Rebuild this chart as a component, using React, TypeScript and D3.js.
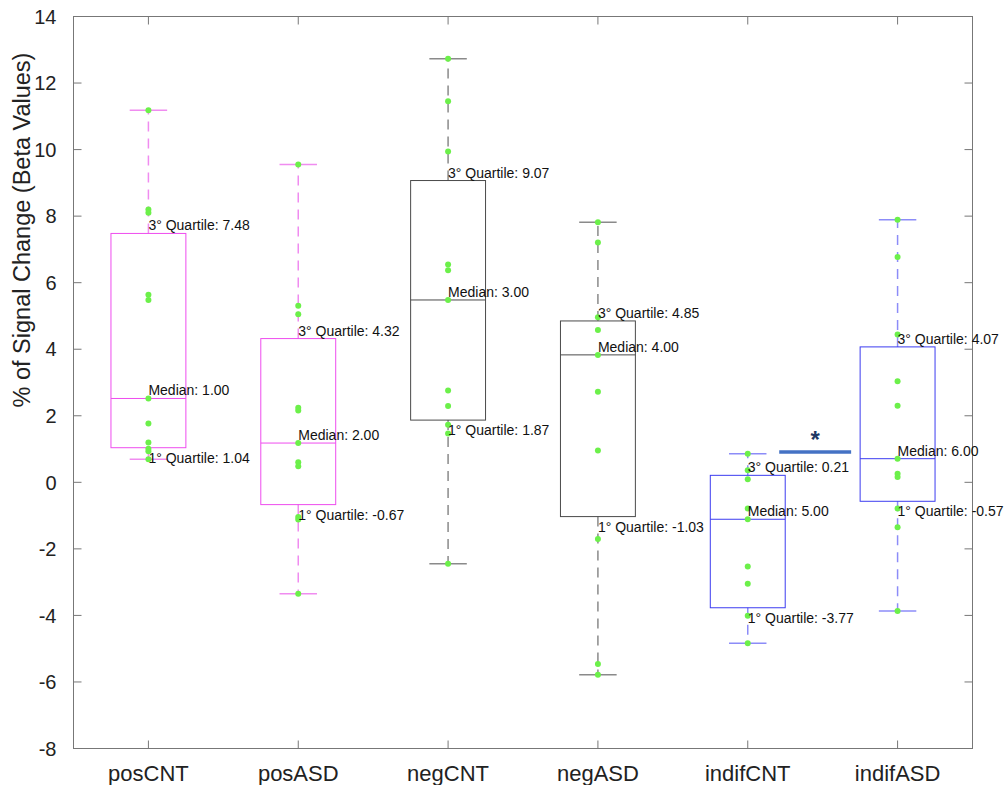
import React from "react";
import * as d3 from "d3";

const categories = ["posCNT", "posASD", "negCNT", "negASD", "indifCNT", "indifASD"];
const q1Values = [1.04, -0.67, 1.87, -1.03, -3.77, -0.57];
const q3Values = [7.48, 4.32, 9.07, 4.85, 0.21, 4.07];
const medianValues = [2.52, 1.18, 5.48, 3.83, -1.11, 0.71];
const whiskerLow = [0.69, -3.35, -2.45, -5.78, -4.84, -3.87];
const whiskerHigh = [11.18, 9.55, 12.73, 7.82, 0.86, 7.89];
const medianLabels = ["1.00", "2.00", "3.00", "4.00", "5.00", "6.00"];

const posCNTPoints = [11.18, 8.2, 8.1, 5.64, 5.48, 2.52, 1.77, 1.2, 1.01, 0.93, 0.69];
const posASDPoints = [9.55, 5.31, 5.05, 2.24, 2.16, 1.18, 0.6, 0.48, -1.04, -1.12, -3.35];
const negCNTPoints = [12.73, 11.45, 9.94, 6.55, 6.37, 5.48, 2.76, 2.29, 1.73, 1.47, -2.45];
const negASDPoints = [7.82, 7.21, 4.96, 4.58, 3.83, 2.72, 0.96, -1.7, -5.46, -5.78];
const indifCNTPoints = [0.86, 0.36, 0.09, -0.79, -1.11, -2.53, -3.05, -4.01, -4.84];
const indifASDPoints = [7.89, 6.77, 4.44, 3.04, 2.3, 0.71, 0.26, 0.16, -0.79, -1.35, -3.87];
const groupPoints = [posCNTPoints, posASDPoints, negCNTPoints, negASDPoints, indifCNTPoints, indifASDPoints];

const yTicks = [-8, -6, -4, -2, 0, 2, 4, 6, 8, 10, 12, 14];
const sigBar = { x1: 5.21, x2: 5.69, y: 0.91, label: "*" };

const boxColors = ["#ee4cee", "#ee4cee", "#4a4a4a", "#4a4a4a", "#3c3cf0", "#3c3cf0"];
const whiskerColors = ["#f08cf0", "#f08cf0", "#8a8a8a", "#8a8a8a", "#8c8cf8", "#8c8cf8"];

export default function App() {
  const W = 1008, H = 785;
  const left = 73.5, right = 972.5, top = 16.5, bottom = 748.5;
  const x = d3.scaleLinear().domain([0.5, 6.5]).range([left, right]);
  const y = d3.scaleLinear().domain([-8, 14]).range([bottom, top]);
  const boxHalf = 0.25;
  const capHalf = 0.125;
  const tickLen = 8;
  const font = "'Liberation Sans', Arial, Helvetica, sans-serif";

  return (
    <svg width={W} height={H} style={{ position: "absolute", left: 0, top: 0 }} fontFamily={font}>
      <rect x={0} y={0} width={W} height={H} fill="#fff" />
      {/* frame */}
      <rect x={left} y={top} width={right - left} height={bottom - top} fill="none" stroke="#777" strokeWidth={1} />
      {/* y ticks */}
      {yTicks.map((t) => (
        <g key={"yt" + t}>
          <line x1={left} x2={left + tickLen} y1={y(t)} y2={y(t)} stroke="#777" />
          <line x1={right} x2={right - tickLen} y1={y(t)} y2={y(t)} stroke="#777" />
          <text x={left - 17} y={y(t)} dy="0.36em" textAnchor="end" fontSize={20} fill="#222">
            {t}
          </text>
        </g>
      ))}
      {/* x ticks */}
      {categories.map((c, i) => (
        <g key={"xt" + c}>
          <line x1={x(i + 1)} x2={x(i + 1)} y1={bottom} y2={bottom - tickLen} stroke="#777" />
          <line x1={x(i + 1)} x2={x(i + 1)} y1={top} y2={top + tickLen} stroke="#777" />
          <text x={x(i + 1)} y={bottom + 32} textAnchor="middle" fontSize={22} fill="#222">
            {c}
          </text>
        </g>
      ))}
      <text
        transform={`translate(22, 230) rotate(-90)`}
        textAnchor="middle"
        dy="0.35em"
        fontSize={23.5}
        fill="#222"
      >
        % of Signal Change (Beta Values)
      </text>

      {/* boxes */}
      {categories.map((c, i) => {
        const cx = x(i + 1);
        const bx0 = x(i + 1 - boxHalf), bx1 = x(i + 1 + boxHalf);
        const cx0 = x(i + 1 - capHalf), cx1 = x(i + 1 + capHalf);
        return (
          <g key={"box" + c}>
            <line x1={cx} x2={cx} y1={y(q3Values[i])} y2={y(whiskerHigh[i])} stroke={whiskerColors[i]} strokeWidth={1.5} strokeDasharray="10,7" />
            <line x1={cx} x2={cx} y1={y(q1Values[i])} y2={y(whiskerLow[i])} stroke={whiskerColors[i]} strokeWidth={1.5} strokeDasharray="10,7" />
            <line x1={cx0} x2={cx1} y1={y(whiskerHigh[i])} y2={y(whiskerHigh[i])} stroke={whiskerColors[i]} strokeWidth={1.5} />
            <line x1={cx0} x2={cx1} y1={y(whiskerLow[i])} y2={y(whiskerLow[i])} stroke={whiskerColors[i]} strokeWidth={1.5} />
            <rect
              x={bx0}
              y={y(q3Values[i])}
              width={bx1 - bx0}
              height={y(q1Values[i]) - y(q3Values[i])}
              fill="none"
              stroke={boxColors[i]}
              strokeWidth={1}
            />
            <line x1={bx0} x2={bx1} y1={y(medianValues[i])} y2={y(medianValues[i])} stroke={boxColors[i]} strokeWidth={1} />
          </g>
        );
      })}

      {/* points */}
      {groupPoints.map((pts, i) =>
        pts.map((v, j) => <circle key={`p${i}-${j}`} cx={x(i + 1)} cy={y(v)} r={3} fill="#6cf04a" />)
      )}

      {/* labels */}
      {categories.map((c, i) => {
        const cx = x(i + 1);
        return (
          <g key={"lab" + c} fontSize={14} fill="#111">
            <text x={cx} y={y(q3Values[i]) - 3}>{`3° Quartile: ${q3Values[i].toFixed(2)}`}</text>
            <text x={cx} y={y(medianValues[i]) - 3}>{`Median: ${medianLabels[i]}`}</text>
            <text x={cx} y={y(q1Values[i]) + 15}>{`1° Quartile: ${q1Values[i].toFixed(2)}`}</text>
          </g>
        );
      })}

      {/* significance */}
      <line x1={x(sigBar.x1)} x2={x(sigBar.x2)} y1={y(sigBar.y)} y2={y(sigBar.y)} stroke="#4472c4" strokeWidth={3.5} />
      <text
        x={(x(sigBar.x1) + x(sigBar.x2)) / 2}
        y={y(sigBar.y) - 4}
        textAnchor="middle"
        fontSize={24}
        fontWeight="bold"
        fill="#203864"
      >
        {sigBar.label}
      </text>
    </svg>
  );
}
